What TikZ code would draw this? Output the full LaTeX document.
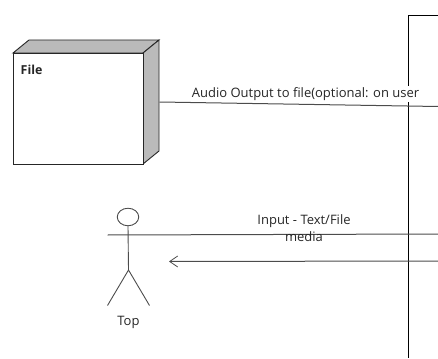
\documentclass[tikz,border=0pt]{standalone}
\usepackage{fontspec}
\setmainfont{Open Sans}
\usetikzlibrary{arrows.meta,shapes.geometric}
\tikzset{
  px/.style={x=1pt,y=-1pt},
  boxline/.style={draw=black!85,line width=0.9pt,line join=miter},
  side/.style={boxline,fill=black!27},
  actorline/.style={draw=black!70,line width=0.9pt},
  conn/.style={draw=black!70,line width=1pt},
  vline/.style={draw=black,line width=1pt},
  lbl/.style={font=\fontsize{13}{15}\selectfont,text=black!85,inner sep=0pt,align=center},
  mask/.style={fill=white,inner xsep=1pt,inner ysep=1pt},
}
\begin{document}
\begin{tikzpicture}[px]
\useasboundingbox (0,0) rectangle (438,358);
% system boundary
\coordinate (bTop) at (408,16);
\coordinate (bBot) at (408,358);
\coordinate (bRight) at (438,16);
\draw[vline] (bRight) -- (bTop) -- (bBot);
% file node
\draw[side] (13,53) -- (29,40) -- (159,40) -- (143,53) -- cycle;
\draw[side] (143,53) -- (159,40) -- (159,151) -- (143,164) -- cycle;
\node[boxline,fill=white,minimum width=130pt,minimum height=111pt,inner sep=0pt,anchor=north west] (file) at (13,53) {};
\node[lbl,anchor=west,font=\fontsize{12.4}{14}\selectfont\bfseries] (fileLabel) at (20.5,69.5) {File};
% connectors
\node[lbl,mask] (audioLabel) at (305.5,94) {Audio Output to file(optional: on user};
\coordinate (fileOut) at (159.5,102);
\coordinate (fileEnd) at (438,106.5);
\draw[conn] (fileOut) -- (fileEnd);
% actor
\node[actorline,ellipse,minimum width=21.5pt,minimum height=17.5pt,inner sep=0pt] (head) at (128,217) {};
\coordinate (hip) at (128.5,270);
\coordinate (legL) at (107.5,305.5);
\coordinate (legR) at (149.5,305.5);
\draw[actorline] (head.south) -- (hip);
\draw[actorline] (legL) -- (hip) -- (legR);
\node[lbl] (top) at (128.5,322) {Top};
% input / media
\coordinate (armL) at (107.5,235);
\coordinate (armR) at (438,234);
\draw[conn] (armL) -- (armR);
\coordinate (retR) at (438,261);
\coordinate (retL) at (169,261.5);
\draw[conn,-{Straight Barb[length=8pt,width=11pt,line width=0.8pt]}] (retR) -- (retL);
\node[lbl] (inputLabel) at (304,221) {Input - Text/File};
\node[lbl] (mediaLabel) at (304,236.5) {media};
\end{tikzpicture}
\end{document}
